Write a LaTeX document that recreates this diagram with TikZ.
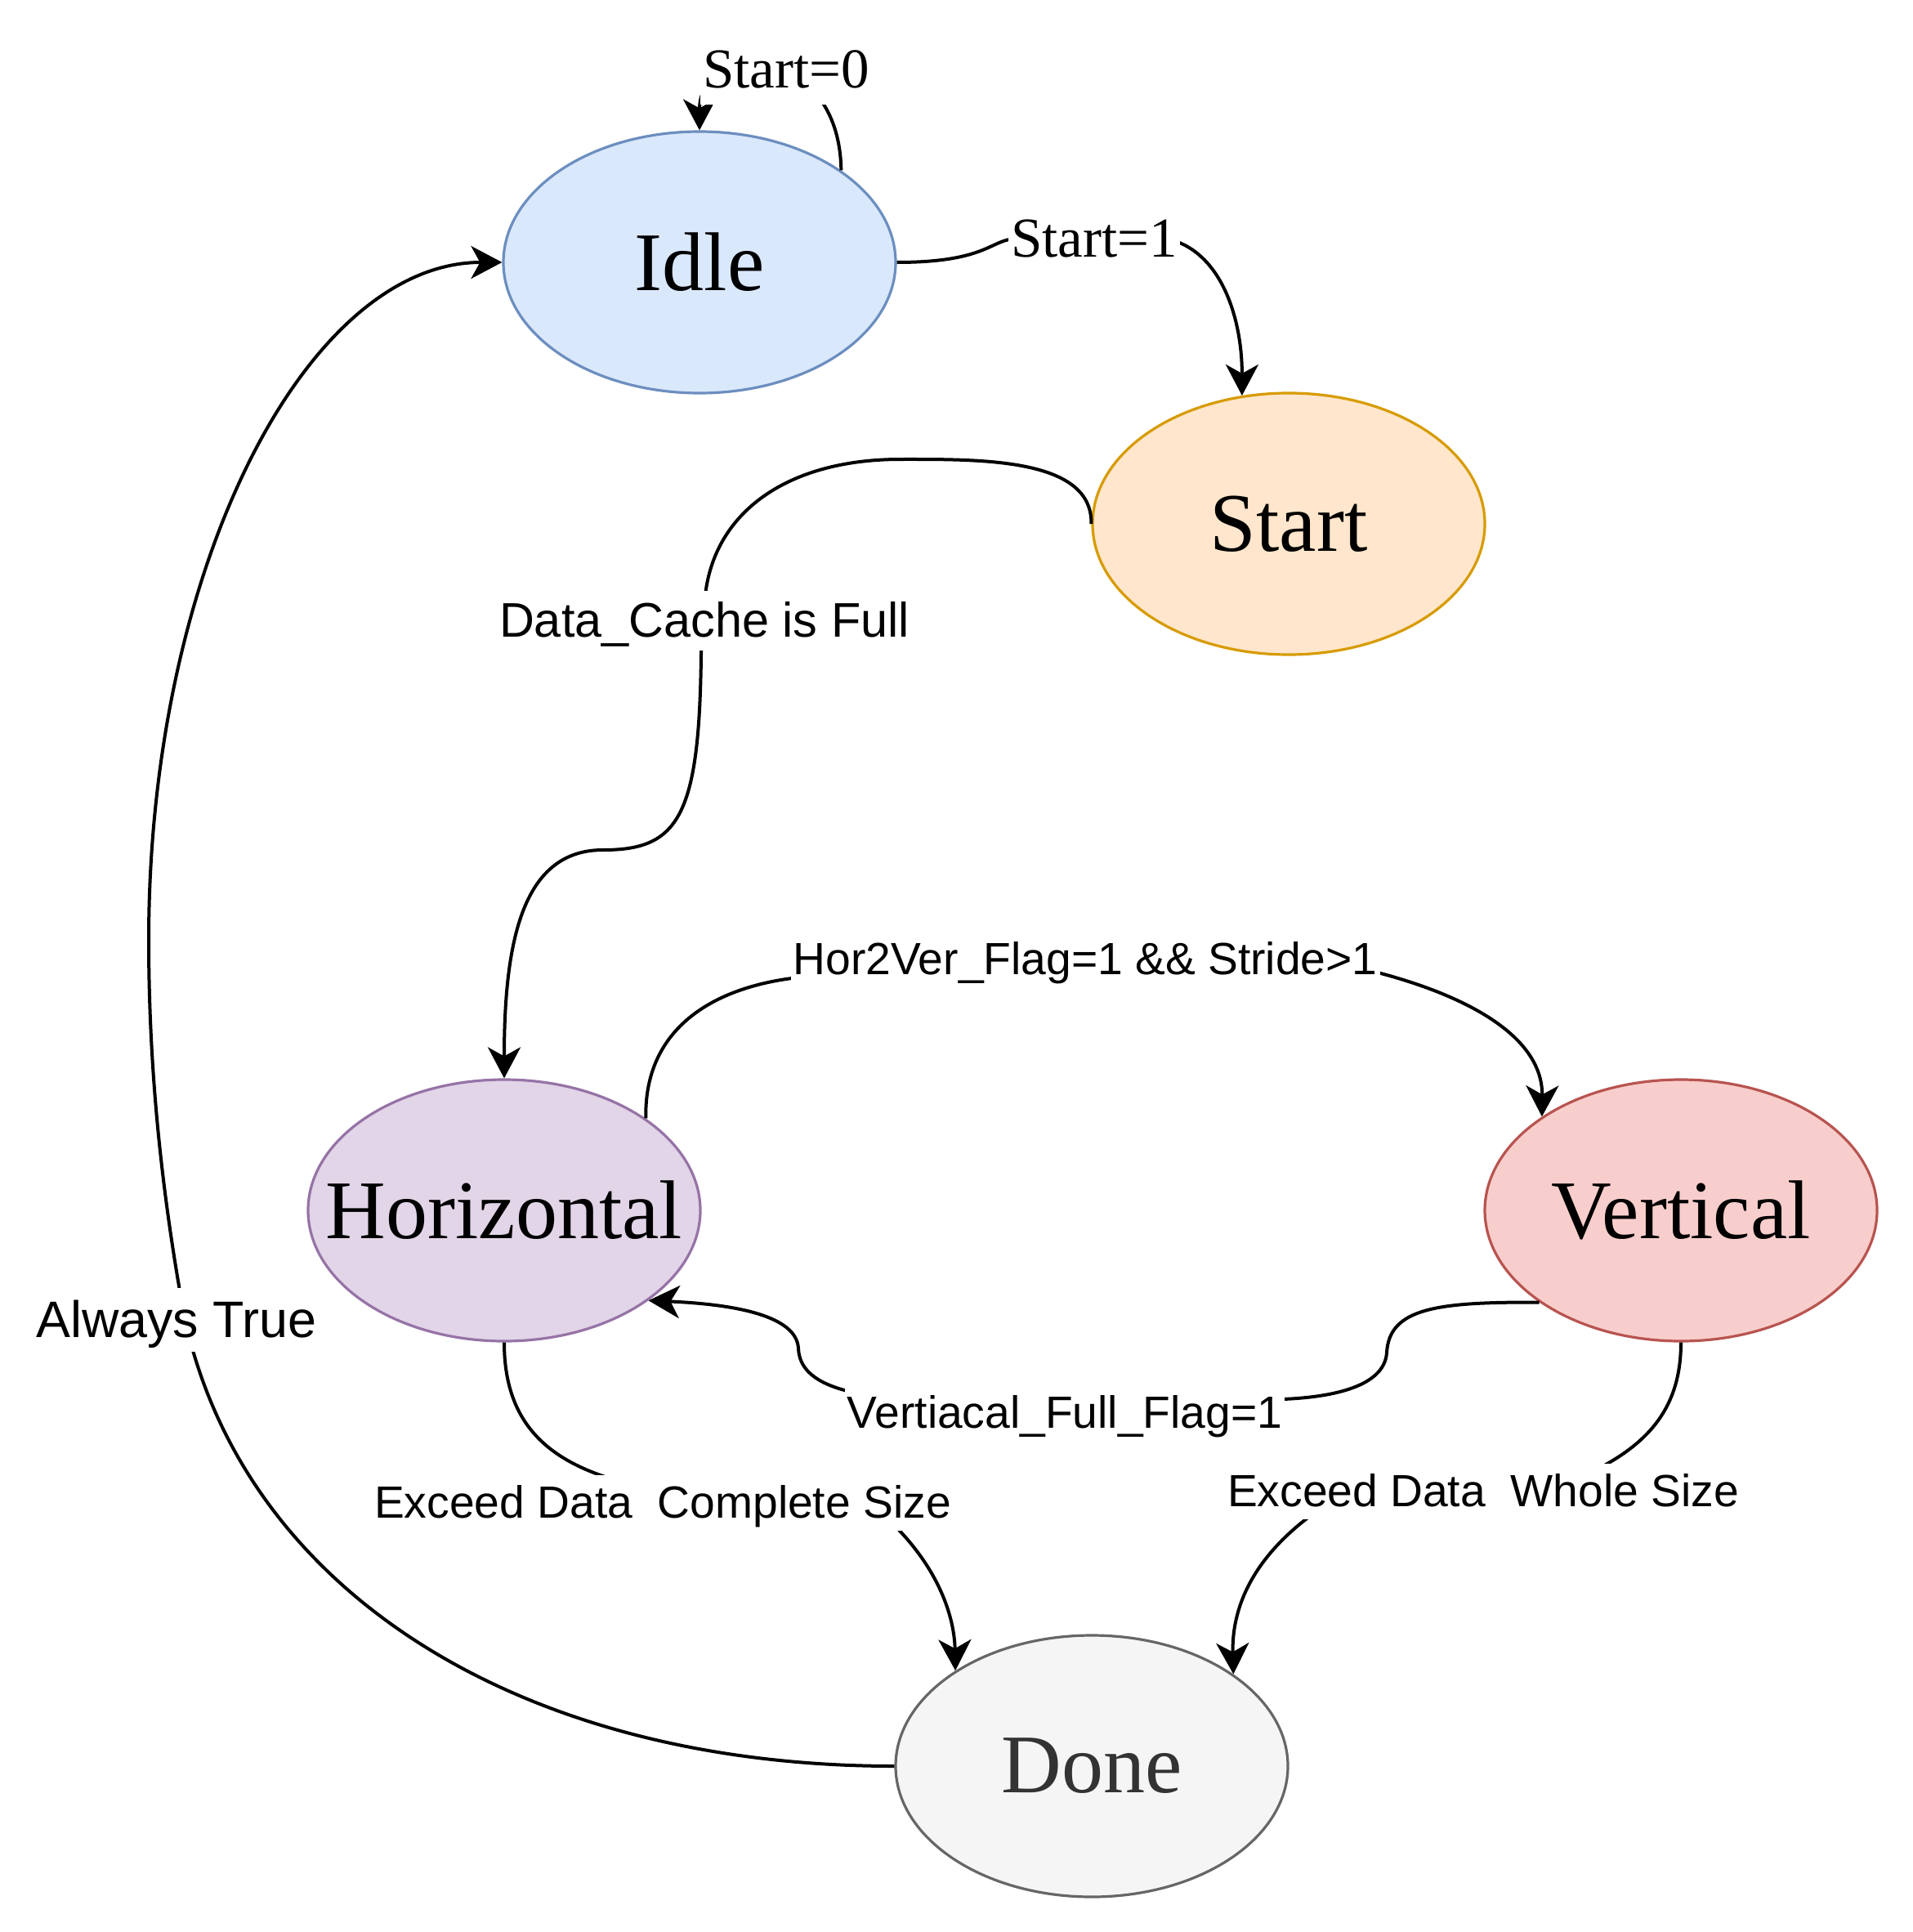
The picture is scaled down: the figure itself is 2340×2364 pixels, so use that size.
\documentclass[tikz,border=0pt]{standalone}
\usepackage{fontspec}
\setmainfont{Liberation Serif}
\newfontfamily\sansf{Liberation Sans}
\usetikzlibrary{arrows.meta,shapes.geometric}
\definecolor{idlef}{HTML}{DAE8FC}\definecolor{idled}{HTML}{6C8EBF}
\definecolor{startf}{HTML}{FFE6CC}\definecolor{startd}{HTML}{D79B00}
\definecolor{horf}{HTML}{E1D5E7}\definecolor{hord}{HTML}{9673A6}
\definecolor{verf}{HTML}{F8CECC}\definecolor{verd}{HTML}{B85450}
\definecolor{donef}{HTML}{F5F5F5}\definecolor{doned}{HTML}{666666}\definecolor{donet}{HTML}{333333}
\begin{document}
\begin{tikzpicture}[x=0.5pt,y=-0.5pt,
  state/.style={ellipse, minimum width=240pt, minimum height=160pt, inner sep=0pt, line width=1.6pt, font=\fontsize{51pt}{51pt}\selectfont},
  conn/.style={line width=2pt, -{Stealth[length=19pt,width=20pt,inset=5.5pt]}},
  lbl/.style={fill=white, inner xsep=1.5pt, inner ysep=0pt, anchor=base},
  lr/.style={font=\rmfamily\fontsize{34.5pt}{34.5pt}\selectfont, text height=32.8pt, text depth=10pt},
  s276/.style={font=\sansf\fontsize{27.6pt}{27.6pt}\selectfont, text height=26.2pt, text depth=8pt},
  s297/.style={font=\sansf\fontsize{29.7pt}{29.7pt}\selectfont, text height=28.2pt, text depth=8.6pt},
  s314/.style={font=\sansf\fontsize{31.4pt}{31.4pt}\selectfont, text height=29.8pt, text depth=9.1pt}]
\fill[white] (0,0) rectangle (2340,2364);
\useasboundingbox (0,0) rectangle (2340,2364);

\node[state, fill=idlef, draw=idled] (idle) at (856,321) {\makebox[0pt]{Idle}};
\node[state, fill=startf, draw=startd] (start) at (1577,641) {\makebox[0pt]{Start}};
\node[state, fill=horf, draw=hord] (horiz) at (617,1481) {\makebox[0pt]{Horizontal}};
\node[state, fill=verf, draw=verd] (vert) at (2057,1481) {\makebox[0pt]{Vertical}};
\node[state, fill=donef, draw=doned, text=donet] (done) at (1336,2161) {\makebox[0pt]{Done}};

% Start=0 self loop
\draw[conn] (idle.33.2) .. controls (1027,50) and (856,50) .. (idle.north);
% Start=1
\draw[conn] (idle.east) .. controls (1210,321) and (1212,292) .. (1245,292) -- (1435,294) .. controls (1495,312) and (1520,390) .. (start.110.2);
% Data_Cache is Full
\draw[conn] (start.west) .. controls (1337,560) and (1200,562) .. (1102,562) .. controls (960,562) and (868,630) .. (862,740) -- (858,800) .. controls (856,1000) and (830,1040) .. (738,1040) .. controls (640,1040) and (617,1150) .. (horiz.north);
% Hor2Ver
\draw[conn] (horiz.33.2) .. controls (788,1260) and (870,1210) .. (969,1197) -- (1686,1190) .. controls (1800,1220) and (1888,1270) .. (vert.146.1);
% Vertiacal_Full_Flag
\draw[conn] (vert.-147.3) .. controls (1760,1593) and (1700,1600) .. (1697,1655) .. controls (1694,1700) and (1620,1710) .. (1570,1712) -- (1037,1702) .. controls (990,1690) and (978,1670) .. (977,1650) .. controls (975,1610) and (900,1596) .. (horiz.-32);
% Exceed Data Complete Size
\draw[conn] (horiz.south) .. controls (617,1750) and (680,1795) .. (780,1818) -- (1090,1862) .. controls (1150,1920) and (1168,1980) .. (done.145.8);
% Exceed Data Whole Size
\draw[conn] (vert.south) .. controls (2057,1720) and (2020,1765) .. (1950,1800) -- (1610,1850) .. controls (1540,1900) and (1507,1960) .. (done.33.7);
% Always True
\draw[conn] (done.west) .. controls (640,2161) and (300,1950) .. (226,1613) .. controls (196,1450) and (182,1300) .. (182,1150) .. controls (182,692) and (376,321) .. (idle.west);

\node[lbl, lr] (l0) at (962,108) {Start=0};
\node[lbl, lr] (l1) at (1339,315) {Start=1};
\node[lbl, s297] (lcache) at (862,779) {Data\_Cache is Full};
\node[lbl, s276] (lh2v) at (1328,1192) {Hor2Ver\_Flag=1 \&\& Stride>1};
\node[lbl, s276] (lvff) at (1303,1747) {Vertiacal\_Full\_Flag=1};
\node[lbl, s276] (lcomp) at (811,1857) {Exceed Data\ \ Complete Size};
\node[lbl, s276] (lwhole) at (1815,1843) {Exceed Data\ \ Whole Size};
\node[lbl, s314] (ltrue) at (216,1636) {Always True};
\end{tikzpicture}
\end{document}
